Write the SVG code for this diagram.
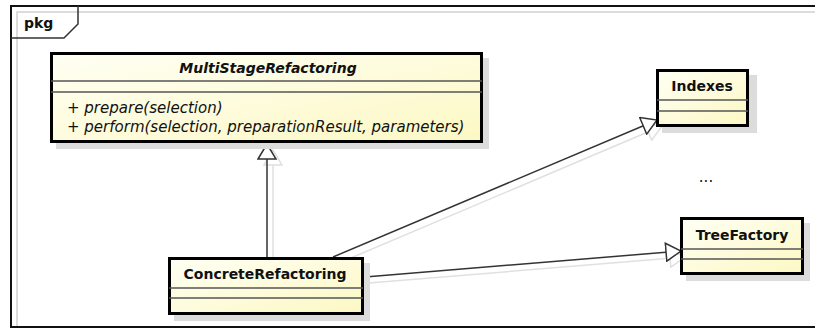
<svg xmlns="http://www.w3.org/2000/svg" width="815" height="329" viewBox="0 0 815 329">
  <style>
    .frame { fill: none; stroke: #111; stroke-width: 2; }
    .frameshade { fill: none; stroke: #dcdcdc; stroke-width: 2; }
    .tab { fill: none; stroke: #333; stroke-width: 1.5; }
    .box { fill: url(#classFill); stroke: #000; stroke-width: 3; }
    .shadow { fill: #dcdcdc; }
    .sep { stroke: #555; stroke-width: 1.5; }
    .title { font-family: "DejaVu Sans", Verdana, sans-serif; font-size: 14px; font-weight: bold; fill: #111; text-anchor: middle; }
    .abstract { font-style: italic; }
    .op { font-family: "DejaVu Sans", Verdana, sans-serif; font-size: 15px; font-style: italic; fill: #111; }
    .plain { font-family: "DejaVu Sans", Verdana, sans-serif; font-size: 15px; fill: #111; }
    .edge { fill: none; stroke: #333; stroke-width: 1.5; marker-end: url(#gen); }
    .edgeshade { fill: none; stroke: #e0e0e0; stroke-width: 1.5; marker-end: url(#genShade); }
  </style>
  <defs>
    <linearGradient id="classFill" x1="0" y1="0" x2="1" y2="1">
      <stop offset="0" stop-color="#fffff4"/>
      <stop offset="1" stop-color="#fcf8c4"/>
    </linearGradient>
    <!-- hollow triangle for generalization -->
    <marker id="gen" markerUnits="userSpaceOnUse" markerWidth="18" markerHeight="20" viewBox="0 0 18 20" refX="16" refY="10" orient="auto">
      <path d="M1,1 L16,10 L1,19 Z" fill="#fff" stroke="#333" stroke-width="1.5"/>
    </marker>
    <marker id="genShade" markerUnits="userSpaceOnUse" markerWidth="18" markerHeight="20" viewBox="0 0 18 20" refX="16" refY="10" orient="auto">
      <path d="M1,1 L16,10 L1,19 Z" fill="#fff" stroke="#e0e0e0" stroke-width="1.5"/>
    </marker>
  </defs>

  <rect x="0" y="0" width="815" height="329" fill="#fff"/>

  <!-- package frame -->
  <g id="pkg">
    <path class="frameshade" d="M17,327 V12 H816"/>
    <path class="frame" d="M11,328 V6 H816 M11,327 H816"/>
    <path class="tab" d="M78,6 V24 L64,38 H11"/>
    <text class="title" x="24" y="28" style="text-anchor:start">pkg</text>
  </g>

  <!-- connectors -->
  <g id="connectors">
    <line class="edgeshade" x1="273" y1="262" x2="273" y2="150"/>
    <line class="edgeshade" x1="339" y1="263" x2="662" y2="126"/>
    <line class="edgeshade" x1="369" y1="283" x2="685" y2="257"/>
    <line class="edge" x1="267" y1="257" x2="267" y2="144"/>
    <line class="edge" x1="333" y1="257" x2="657" y2="120"/>
    <line class="edge" x1="365" y1="277" x2="681" y2="251"/>
  </g>

  <g id="MultiStageRefactoring">
    <rect class="shadow" x="56" y="58" width="433" height="91"/>
    <rect class="box" x="51.5" y="53.5" width="430" height="88"/>
    <line class="sep" x1="51" y1="81" x2="482" y2="81"/>
    <line class="sep" x1="51" y1="92" x2="482" y2="92"/>
    <text class="title abstract" x="268" y="73">MultiStageRefactoring</text>
    <text class="op" x="67" y="113">+ prepare(selection)</text>
    <text class="op" x="67" y="132">+ perform(selection, preparationResult, parameters)</text>
  </g>

  <g id="ConcreteRefactoring">
    <rect class="shadow" x="174" y="263" width="196" height="58"/>
    <rect class="box" x="169.5" y="258.5" width="193" height="55"/>
    <line class="sep" x1="169" y1="288" x2="363" y2="288"/>
    <line class="sep" x1="169" y1="298" x2="363" y2="298"/>
    <text class="title" x="265" y="279">ConcreteRefactoring</text>
  </g>

  <g id="Indexes">
    <rect class="shadow" x="662" y="75" width="95" height="58"/>
    <rect class="box" x="657.5" y="70.5" width="90" height="55"/>
    <line class="sep" x1="657" y1="100" x2="748" y2="100"/>
    <line class="sep" x1="657" y1="111" x2="748" y2="111"/>
    <text class="title" x="702" y="91">Indexes</text>
  </g>

  <g id="ellipsis">
    <text class="plain" x="706" y="182" text-anchor="middle">...</text>
  </g>

  <g id="TreeFactory">
    <rect class="shadow" x="686" y="223" width="124" height="58"/>
    <rect class="box" x="681.5" y="218.5" width="121" height="55"/>
    <line class="sep" x1="681" y1="249" x2="803" y2="249"/>
    <line class="sep" x1="681" y1="259" x2="803" y2="259"/>
    <text class="title" x="742" y="240">TreeFactory</text>
  </g>
</svg>
